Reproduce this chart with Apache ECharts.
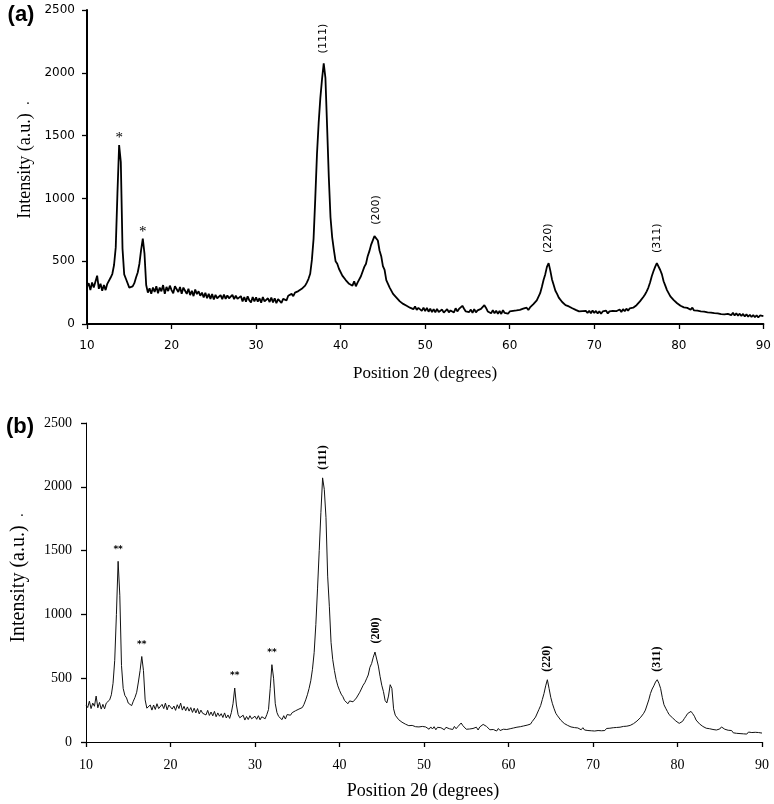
<!DOCTYPE html>
<html><head><meta charset="utf-8">
<script src="https://cdn.jsdelivr.net/npm/echarts@6/dist/echarts.min.js"></script>
<style>html,body{margin:0;padding:0;background:#fff}#c{width:774px;height:804px}</style>
</head><body><div id="c"></div>
<script>
// Sampling grid of the diffractograms: 2θ from 10° to 90° every 0.2°
const angleStart = 10;
const angleStep = 0.2;

// Panel (a) intensities (a.u.)
const intensityA = [
295,325,270,330,290,300,385,280,320,265,
310,270,320,335,370,400,470,610,1040,1424,
1290,600,395,360,345,290,280,300,325,370,
410,480,590,680,560,310,250,285,240,290,
255,300,245,290,260,310,240,295,262,305,
270,245,300,310,255,295,240,290,265,240,
280,230,265,222,275,238,260,225,250,212,
248,205,240,200,238,195,232,205,190,230,
198,235,200,228,205,190,232,198,225,200,
185,222,180,215,178,220,188,172,215,180,
212,178,205,170,215,180,168,205,175,210,
172,205,165,198,208,168,200,215,188,225,
215,240,222,250,235,262,250,280,275,305,
330,360,400,510,680,1000,1350,1600,1800,1950,
2075,1960,1570,1170,850,690,590,500,480,440,
430,385,380,350,355,320,335,305,340,300,
330,325,380,395,455,480,540,580,630,640,
700,705,665,585,540,460,430,350,340,290,
285,240,245,210,215,180,190,160,170,145,
160,130,145,118,140,112,128,132,105,130,
102,128,98,122,95,118,92,120,96,110,
115,90,104,118,92,108,120,92,125,100,
120,112,145,122,100,108,95,115,88,118,
92,108,95,120,112,150,128,100,112,85,
110,85,105,82,104,80,110,88,100,82,
100,88,105,92,108,95,112,100,122,108,
130,112,132,138,158,160,188,195,245,295,
350,395,455,485,425,355,310,265,240,210,
200,175,178,150,165,140,155,125,132,112,
122,100,110,102,96,104,88,106,85,108,
88,104,84,102,82,100,86,106,84,100,
92,104,96,102,92,115,95,118,102,122,
105,125,122,130,130,150,155,180,185,215,
235,260,290,330,380,420,455,485,470,430,
395,340,305,270,255,220,215,190,190,165,
168,145,152,132,138,128,132,114,130,108,
118,106,112,100,110,98,106,92,104,90,
100,86,96,84,92,78,92,76,90,80,
88,70,90,68,86,66,82,64,80,60,
78,58,74,56,72,54,70,52,68,56,
62
];

// Panel (b) intensities (a.u.)
const intensityB = [
290,270,320,262,305,280,360,268,310,258,
295,260,305,315,330,370,460,640,1000,1416,
1150,600,420,365,345,305,300,285,320,350,
390,470,560,670,560,330,265,275,290,250,
290,255,300,262,250,295,262,305,252,290,
300,258,282,248,292,262,305,250,280,245,
275,242,270,232,265,228,262,220,250,225,
240,212,248,208,235,205,240,198,228,202,
222,192,228,188,212,185,230,300,423,290,
215,190,192,210,172,200,176,206,182,170,
202,178,206,174,198,210,182,215,255,420,
606,500,300,230,200,196,175,206,180,215,
220,210,230,226,245,245,258,260,270,295,
330,370,420,480,570,700,920,1200,1500,1800,
2070,1980,1760,1300,1060,780,645,560,490,440,
405,375,355,325,328,300,322,318,315,325,
345,360,390,405,445,465,495,525,585,615,
665,705,695,595,515,445,395,325,306,360,
449,420,260,210,200,175,180,155,155,140,
145,128,132,130,126,120,122,118,114,122,
110,118,112,100,118,102,120,96,115,100,
112,104,96,115,100,104,108,98,122,104,
120,118,149,128,116,100,100,102,104,106,
98,116,94,118,116,138,149,122,116,96,
100,98,102,86,106,90,104,100,102,98,
104,104,108,110,112,116,116,120,122,126,
128,132,134,140,160,165,195,210,255,285,
332,380,440,488,420,350,300,260,225,205,
195,170,165,145,145,130,133,118,120,113,
115,110,110,96,112,94,108,90,104,88,
102,86,100,90,104,88,102,90,106,92,
108,94,112,98,114,100,116,104,122,108,
124,124,130,130,144,146,164,170,190,196,
225,250,290,330,380,415,440,470,488,460,
420,350,292,265,240,215,200,190,175,165,
158,146,153,162,183,202,223,228,240,222,
202,172,163,142,136,122,122,108,119,104,
114,98,109,94,104,102,118,104,100,88,
92,78,90,72,84,68,82,66,79,64,
76,62,78,64,74,61,76,62,74,64,
70
];

// Axis ticks
const xTickValues = [10, 20, 30, 40, 50, 60, 70, 80, 90];
const yTickValues = [0, 500, 1000, 1500, 2000, 2500];

// Reflection labels: [label, 2θ, peak intensity]
const reflectionsA = [['(111)', 37.95, 2075], ['(200)', 44.2, 710], ['(220)', 64.6, 485], ['(311)', 77.45, 485]];
const reflectionsB = [['(111)', 38.0, 2070], ['(200)', 44.3, 710], ['(220)', 64.6, 488], ['(311)', 77.6, 488]];
// Impurity peak markers: [2θ, peak intensity]
const starsA = [[13.8, 1424], [16.6, 680]];
const starsB = [[13.8, 1416], [16.6, 670], [27.6, 423], [32.0, 606]];

const twoTheta = intensityA.map((_, i) => +(angleStart + i * angleStep).toFixed(1));
const seriesA = twoTheta.map((t, i) => [t, intensityA[i]]);
const seriesB = twoTheta.map((t, i) => [t, intensityB[i]]);

const chart = echarts.init(document.getElementById('c'), null, {renderer: 'canvas'});

function xAx(g, font, size, lw) {
  return {
    gridIndex: g, type: 'value', min: xTickValues[0], max: xTickValues[xTickValues.length - 1],
    interval: xTickValues[1] - xTickValues[0],
    axisLine: {onZero: false, lineStyle: {color: '#000', width: lw}},
    axisTick: {show: true, inside: false, length: 5, lineStyle: {color: '#000', width: 1.3}},
    axisLabel: {color: '#000', fontFamily: font, fontSize: size, margin: 16, formatter: v => String(v)},
    splitLine: {show: false}
  };
}
function yAx(g, font, size, lw, margin) {
  return {
    gridIndex: g, type: 'value', min: yTickValues[0], max: yTickValues[yTickValues.length - 1],
    interval: yTickValues[1] - yTickValues[0],
    axisLine: {show: true, onZero: false, lineStyle: {color: '#000', width: lw}},
    axisTick: {show: true, inside: false, length: 5, lineStyle: {color: '#000', width: 1.3}},
    axisLabel: {color: '#000', fontFamily: font, fontSize: size, margin: margin, formatter: v => String(v)},
    splitLine: {show: false}
  };
}

chart.setOption({
  animation: false,
  backgroundColor: '#fff',
  grid: [
    {left: 87, top: 10, width: 679, height: 314},
    {left: 86, top: 423, width: 676, height: 319}
  ],
  xAxis: [xAx(0, 'DejaVu Sans', 12, 2), xAx(1, 'Liberation Serif', 14, 1)],
  yAxis: [yAx(0, 'DejaVu Sans', 12, 2, 12), yAx(1, 'Liberation Serif', 14, 1, 14)],
  series: [
    {type: 'line', xAxisIndex: 0, yAxisIndex: 0, data: seriesA, showSymbol: false, symbol: 'none',
     lineStyle: {color: '#000', width: 1.8}, silent: true},
    {type: 'line', xAxisIndex: 1, yAxisIndex: 1, data: seriesB, showSymbol: false, symbol: 'none',
     lineStyle: {color: '#111', width: 1}, silent: true}
  ]
});

const g = [];
function addRefl(list, gi, font, gap) {
  list.forEach(([t, x, y]) => {
    const p = chart.convertToPixel({gridIndex: gi}, [x, y]);
    g.push({type: 'text', x: p[0], y: p[1] - gap, rotation: Math.PI / 2,
      style: {text: t, font: font, fill: '#000', align: 'left', verticalAlign: 'middle'}});
  });
}
function addStars(list, gi, txt, font, gap) {
  list.forEach(([x, y]) => {
    const p = chart.convertToPixel({gridIndex: gi}, [x, y]);
    g.push({type: 'text', x: p[0], y: p[1] - gap,
      style: {text: txt, font: font, fill: '#000', align: 'center', verticalAlign: 'middle'}});
  });
}
addRefl(reflectionsA, 0, '11px "DejaVu Sans"', 10);
addRefl(reflectionsB, 1, 'bold 12px "Liberation Serif"', 8);
addStars(starsA, 0, '*', '15px "Liberation Serif"', 7);
addStars(starsB, 1, '**', 'bold 9px "DejaVu Sans"', 12);

// Panel letters and axis titles
g.push({type: 'text', x: 21, y: 15, style: {text: '(a)', font: 'bold 22px "Liberation Sans"', fill: '#000', align: 'center', verticalAlign: 'middle'}});
g.push({type: 'text', x: 20, y: 427, style: {text: '(b)', font: 'bold 22px "Liberation Sans"', fill: '#000', align: 'center', verticalAlign: 'middle'}});
g.push({type: 'text', x: 25, y: 166, rotation: Math.PI / 2, style: {text: 'Intensity (a.u.)', font: '18px "Liberation Serif"', fill: '#000', align: 'center', verticalAlign: 'middle'}});
g.push({type: 'text', x: 28, y: 100, style: {text: '.', font: '14px "Liberation Serif"', fill: '#000', align: 'center', verticalAlign: 'middle'}});
g.push({type: 'text', x: 19, y: 584, rotation: Math.PI / 2, style: {text: 'Intensity (a.u.)', font: '20px "Liberation Serif"', fill: '#000', align: 'center', verticalAlign: 'middle'}});
g.push({type: 'text', x: 22, y: 512, style: {text: '.', font: '14px "Liberation Serif"', fill: '#000', align: 'center', verticalAlign: 'middle'}});
g.push({type: 'text', x: 425, y: 374, style: {text: 'Position 2θ (degrees)', font: '17px "Liberation Serif"', fill: '#000', align: 'center', verticalAlign: 'middle'}});
g.push({type: 'text', x: 423, y: 791, style: {text: 'Position 2θ (degrees)', font: '18px "Liberation Serif"', fill: '#000', align: 'center', verticalAlign: 'middle'}});

chart.setOption({graphic: g});
</script>
</body></html>
